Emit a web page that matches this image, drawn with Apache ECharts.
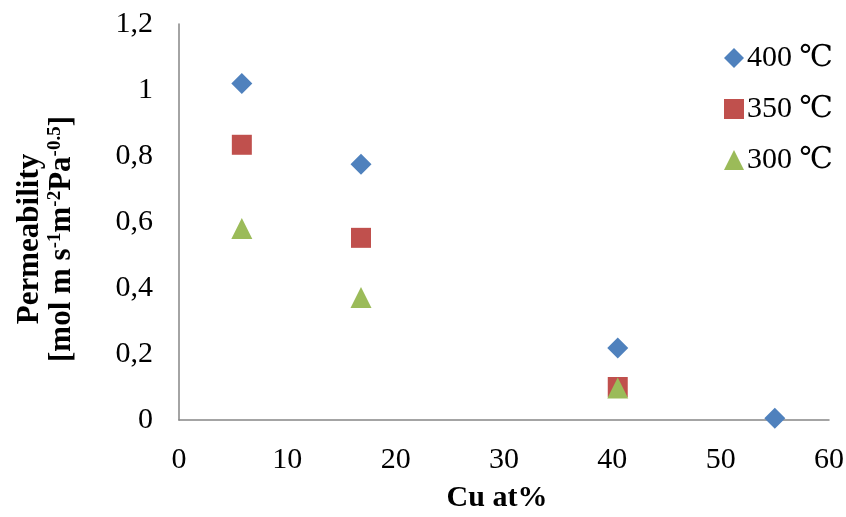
<!DOCTYPE html>
<html>
<head>
<meta charset="utf-8">
<script src="https://cdn.jsdelivr.net/npm/echarts@6/dist/echarts.min.js"></script>
<style>
  html, body { margin: 0; padding: 0; background: #fff; }
  #chart { width: 846px; height: 517px; }
</style>
</head>
<body>
<div id="chart"></div>
<script>
// Cu content (at%) for each membrane composition
const cuContent = [5.8, 16.8, 40.5, 55.0];
// Permeability at each temperature (null where not measured)
const perm400 = [1.02, 0.775, 0.218, 0.005];
const perm350 = [0.834, 0.552, 0.10, null];
const perm300 = [0.58, 0.371, 0.097, null];
const seriesNames = ['400 ℃', '350 ℃', '300 ℃'];
const xTicks = [0, 10, 20, 30, 40, 50, 60];
const yTicks = [0, 0.2, 0.4, 0.6, 0.8, 1, 1.2];

const FONT = '"Liberation Serif", "DejaVu Serif", "Times New Roman", serif';

function pairs(xs, ys) {
  const out = [];
  xs.forEach((x, i) => { if (ys[i] !== null) out.push([x, ys[i]]); });
  return out;
}

const chart = echarts.init(document.getElementById('chart'), null, { renderer: 'canvas' });

const axisLine = { show: true, lineStyle: { color: '#868686', width: 1.5 } };

chart.setOption({
  animation: false,
  backgroundColor: '#fff',
  grid: { left: 179, right: 17, top: 24, bottom: 97, containLabel: false, outerBoundsMode: 'none' },
  legend: {
    orient: 'vertical',
    left: 719,
    top: 38,
    itemWidth: 20,
    itemHeight: 20,
    itemGap: 21,
    textStyle: { fontFamily: FONT, fontSize: 30, color: '#000', padding: [0, 0, 0, -2] },
    data: seriesNames.map(n => ({ name: n }))
  },
  xAxis: {
    type: 'value',
    min: xTicks[0],
    max: xTicks[xTicks.length - 1],
    interval: 10,
    axisLine: axisLine,
    axisTick: { show: false },
    splitLine: { show: false },
    axisLabel: { fontFamily: FONT, fontSize: 30, color: '#000', margin: 25 },
    name: 'Cu at%',
    nameLocation: 'middle',
    nameGap: 63,
    nameTextStyle: { fontFamily: FONT, fontSize: 30, fontWeight: 'bold', color: '#000', padding: [0, 14, 0, 0] }
  },
  yAxis: {
    type: 'value',
    min: yTicks[0],
    max: yTicks[yTicks.length - 1],
    interval: 0.2,
    axisLine: axisLine,
    axisTick: { show: false },
    splitLine: { show: false },
    axisLabel: {
      fontFamily: FONT, fontSize: 30, color: '#000', margin: 26,
      formatter: v => String(Math.round(v * 10) / 10).replace('.', ',')
    },
    name: '{b|Permeability}\n{b|[mol m s}{s|-1}{b|m}{s|-2}{b|Pa}{s|-0.5}{b|]}',
    nameLocation: 'middle',
    nameRotate: 90,
    nameGap: 101,
    nameTextStyle: {
      color: '#000',
      lineHeight: 32,
      padding: [0, 34, 0, 0],
      rich: {
        b: { fontFamily: FONT, fontSize: 31, fontWeight: 'bold', color: '#000', lineHeight: 32 },
        s: { fontFamily: FONT, fontSize: 19, fontWeight: 'bold', color: '#000', verticalAlign: 'top', lineHeight: 32, padding: [0, 0, 12, 0] }
      }
    }
  },
  series: [
    { name: seriesNames[0], type: 'scatter', symbol: 'diamond', symbolSize: 21,
      itemStyle: { color: '#4F81BD', opacity: 1 }, data: pairs(cuContent, perm400) },
    { name: seriesNames[1], type: 'scatter', symbol: 'rect', symbolSize: 20,
      itemStyle: { color: '#C0504D', opacity: 1 }, data: pairs(cuContent, perm350) },
    { name: seriesNames[2], type: 'scatter', symbol: 'triangle', symbolSize: 21,
      itemStyle: { color: '#9BBB59', opacity: 1 }, data: pairs(cuContent, perm300) }
  ]
});
</script>
</body>
</html>
